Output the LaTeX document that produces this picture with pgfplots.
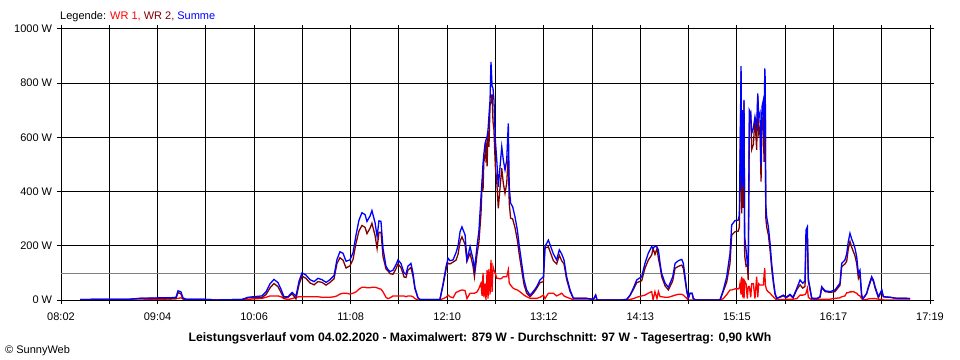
\documentclass[border=0pt]{standalone}
\usepackage{pgfplots}
\pgfplotsset{compat=1.18}
\usepackage{pgfplotstable}
\usepackage{fontspec}
\setmainfont{Liberation Sans}
\definecolor{wrone}{RGB}{255,0,0}
\definecolor{wrtwo}{RGB}{128,0,0}
\definecolor{summe}{RGB}{0,0,255}
\definecolor{avg}{RGB}{128,128,128}
\pgfplotstableread{
t sum wr1 wr2
494.2 2 0 2
526.2 3 0 3
532.6 6 0 6
545.5 8 2 6
551.9 8 4 4
555.7 10 5 5
557.0 34 6 28
558.9 30 8 22
560.2 8 4 4
562.1 3 0 3
577.5 2 0 2
580.1 0 0 0
598.0 2 0 2
601.9 10 2 8
605.1 12 4 8
610.8 15 6 9
613.4 30 10 20
616.0 60 15 45
618.5 76 15 61
621.1 64 15 49
623.0 40 12 28
624.9 12 5 7
627.5 12 2 10
630.1 28 5 23
632.6 14 10 4
634.6 70 12 58
636.5 100 12 88
639.0 92 12 80
641.6 75 12 63
644.2 68 12 56
646.7 80 12 68
649.3 75 10 65
651.9 65 10 55
654.4 75 10 65
657.0 90 12 78
658.9 150 15 135
660.8 178 22 156
662.8 172 25 147
664.7 143 25 118
667.2 148 22 126
669.2 175 25 150
671.1 240 30 210
673.0 295 40 255
674.9 322 47 275
676.9 315 47 268
678.1 290 45 245
680.1 310 45 265
681.3 330 47 283
683.3 285 47 238
684.6 235 45 190
685.8 292 42 250
687.1 290 40 250
688.4 190 30 160
690.3 125 10 115
691.6 112 5 107
692.9 105 8 97
694.8 110 15 95
696.7 130 15 115
698.0 148 15 133
699.9 135 15 120
701.9 100 15 85
703.1 95 12 83
704.4 125 15 110
706.3 135 15 120
707.6 100 12 88
708.9 45 5 40
710.8 8 0 8
712.1 2 0 2
724.9 2 0 2
726.9 60 5 55
728.8 123 10 113
730.1 154 18 136
731.3 145 12 133
733.3 148 8 140
735.2 175 28 147
736.5 200 31 169
737.8 252 35 217
739.0 270 37 233
741.0 240 35 205
742.2 148 5 143
744.2 197 25 172
746.1 150 25 125
747.0 111 25 86
748.7 200 30 170
749.9 258 43 215
751.2 381 62 319
751.9 440 15 425
752.5 504 100 404
753.1 540 10 530
753.8 578 60 518
754.4 590 0 590
755.1 603 110 493
755.7 627 5 622
756.3 680 115 565
757.0 738 20 718
757.6 879 148 731
758.3 790 30 760
758.9 781 123 658
759.5 738 110 628
760.4 590 98 492
761.3 517 80 437
762.3 418 80 338
763.4 492 78 414
764.5 566 80 486
765.5 517 86 431
766.6 480 86 394
767.7 517 86 431
768.7 652 111 541
769.3 418 62 356
770.2 357 55 302
771.5 344 45 299
773.0 307 40 267
774.5 258 37 221
775.8 197 32 165
777.3 135 25 110
778.8 74 18 56
780.5 37 12 25
782.6 18 6 12
784.7 31 6 25
786.9 49 6 43
789.0 74 10 64
791.2 86 18 68
792.2 197 5 192
794.4 221 25 196
795.9 197 25 172
797.6 170 25 145
799.7 148 15 133
801.4 185 20 165
802.9 170 25 145
804.4 148 15 133
806.1 86 10 76
808.3 37 6 31
810.4 6 0 6
819.0 6 0 6
823.2 2 0 2
824.7 18 0 18
825.6 0 0 0
840.3 0 0 0
844.6 2 0 2
846.7 18 2 16
848.8 43 5 38
851.0 74 10 64
854.2 86 15 71
856.3 135 18 117
858.4 172 25 147
860.6 197 31 166
861.5 190 0 190
862.7 199 31 168
864.0 195 5 190
864.9 185 31 154
866.0 135 12 123
867.0 98 12 86
869.2 62 10 52
871.3 47 10 37
874.1 86 15 71
875.6 135 18 117
877.7 145 21 124
879.9 150 21 129
880.9 135 18 117
882.0 86 12 74
883.1 37 6 31
884.1 6 0 6
885.2 25 0 25
886.5 25 0 25
887.3 5 0 5
889.0 0 0 0
904.4 0 0 0
906.5 37 5 32
908.7 86 20 66
910.8 172 37 135
911.9 277 37 240
914.0 293 41 252
916.1 295 41 254
916.8 314 45 269
917.2 500 60 440
917.9 863 20 843
918.3 406 86 320
919.0 701 10 691
919.3 420 80 340
919.8 738 5 733
920.2 234 70 164
921.1 185 60 125
921.9 135 5 130
922.5 123 50 73
923.2 701 50 651
924.1 690 10 680
924.7 615 60 555
925.8 634 60 574
926.8 676 5 671
927.9 640 86 554
928.6 762 10 752
929.2 676 60 616
930.0 690 55 635
930.7 492 55 437
931.3 713 55 658
932.2 738 55 683
932.6 600 90 510
933.1 855 117 738
933.4 812 60 752
933.7 357 50 307
934.3 307 37 270
935.4 270 30 240
936.5 209 25 184
937.5 135 18 117
938.6 74 12 62
939.7 25 5 20
940.8 6 0 6
942.9 12 2 10
945.0 18 2 16
946.7 10 2 8
949.3 21 3 18
951.2 10 3 7
953.6 43 5 38
955.7 74 18 56
957.4 62 18 44
958.9 70 20 50
959.5 258 25 233
960.4 270 43 227
961.0 80 10 70
962.1 43 5 38
963.2 6 0 6
966.4 6 2 4
968.5 12 2 10
969.6 49 3 46
971.7 34 3 31
974.9 31 3 28
978.1 37 6 31
981.3 62 8 54
982.4 135 12 123
984.5 148 15 133
985.6 170 27 143
986.6 215 27 188
987.7 246 30 216
988.8 225 30 195
989.9 209 31 178
990.9 191 28 163
992.0 160 25 135
993.1 98 18 80
994.1 110 15 95
995.2 18 5 13
996.1 5 0 5
998.4 25 2 23
999.5 49 4 45
1001.6 86 5 81
1002.7 74 5 69
1003.8 49 5 44
1005.9 12 3 9
1008.1 37 3 34
1009.1 12 0 12
1013.4 10 0 10
1017.7 6 0 6
1024.1 6 0 6
1026.2 5 0 5
}\data

\begin{document}
\fontsize{11bp}{13bp}\selectfont
\begin{tikzpicture}
\useasboundingbox (0,0) rectangle (960bp,360bp);
\begin{axis}[
  at={(61bp,60bp)}, anchor=south west,
  width=869bp, height=271bp, scale only axis,
  xmin=482, xmax=1039, ymin=0, ymax=1000,
  axis line style={black, line width=1bp},
  xtick={482,512.944,543.889,574.833,605.778,636.722,667.667,698.611,729.556,760.5,791.444,822.389,853.333,884.278,915.222,946.167,977.111,1008.056,1039},
  xticklabels={08:02,,09:04,,10:06,,11:08,,12:10,,13:12,,14:13,,15:15,,16:17,,17:19},
  ytick={0,200,400,600,800,1000},
  yticklabels={0 W,200 W,400 W,600 W,800 W,1000 W},
  grid=major, grid style={black, line width=1bp},
  tick align=outside, major tick length=4bp,
  tick style={black, line width=1bp},
  ticklabel style={font=\fontsize{11bp}{13bp}\selectfont},
  xticklabel style={yshift=-5bp},
  yticklabel style={xshift=-1bp},
]
\addplot[avg, line width=1.1bp, no marks] coordinates {(482,97) (1039,97)};
\addplot[wrone, line width=1.3bp, no marks] table[x=t, y=wr1] {\data};
\addplot[wrtwo, line width=1.3bp, no marks] table[x=t, y=wr2] {\data};
\addplot[summe, line width=1.3bp, no marks] table[x=t, y=sum] {\data};
\end{axis}
\node[anchor=base, inner sep=0] at (480bp,19bp) {\fontsize{12.2bp}{14bp}\selectfont\bfseries Leistungsverlauf vom 04.02.2020 - Maximalwert: 879 W - Durchschnitt: 97 W - Tagesertrag: 0,90 kWh};
\node[anchor=base west, inner sep=0] at (60bp,340bp) {Legende: \textcolor{wrone}{WR 1,} \textcolor{wrtwo}{WR 2,} \textcolor{summe}{Summe}};
\node[anchor=base west, inner sep=0] at (5bp,7bp) {\textcopyright{} SunnyWeb};
\end{tikzpicture}
\end{document}
